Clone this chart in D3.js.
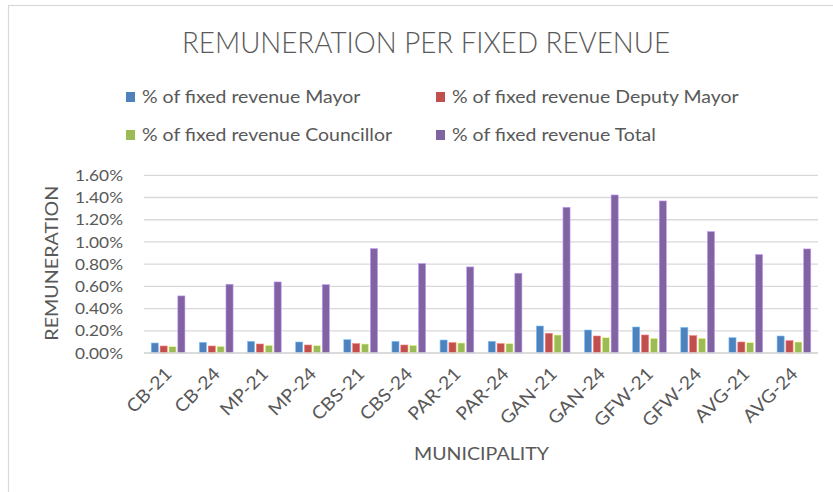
<!DOCTYPE html>
<html>
<head>
<meta charset="utf-8">
<script src="https://cdn.jsdelivr.net/npm/d3@7"></script>
<style>
  html, body { margin: 0; padding: 0; background: #fff; }
  svg { display: block; font-family: Lato, "Open Sans", sans-serif; }
</style>
</head>
<body>
<svg id="chart" width="833" height="492"></svg>
<script>
const categories = ["CB-21","CB-24","MP-21","MP-24","CBS-21","CBS-24","PAR-21","PAR-24","GAN-21","GAN-24","GFW-21","GFW-24","AVG-21","AVG-24"];
const seriesNames = ["% of fixed revenue Mayor","% of fixed revenue Deputy Mayor","% of fixed revenue Councillor","% of fixed revenue Total"];
const mayor      = [0.0009, 0.00096, 0.00105, 0.00099, 0.0012, 0.00105, 0.00117, 0.00105, 0.00243, 0.00207, 0.00234, 0.00231, 0.00138, 0.00153];
const deputy     = [0.00063, 0.00063, 0.00081, 0.00072, 0.00084, 0.00072, 0.00093, 0.00084, 0.00177, 0.00153, 0.00162, 0.00156, 0.00099, 0.00111];
const councillor = [0.00057, 0.0006, 0.00069, 0.00066, 0.00081, 0.00069, 0.0009, 0.00084, 0.00162, 0.00138, 0.00132, 0.00132, 0.00093, 0.00099];
const total      = [0.00514, 0.00619, 0.0064, 0.00615, 0.0094, 0.00805, 0.00775, 0.00718, 0.01312, 0.01423, 0.01369, 0.01093, 0.00886, 0.00937];
const yTicks = [0, 0.002, 0.004, 0.006, 0.008, 0.010, 0.012, 0.014, 0.016];
const colors = ["#4f81bd", "#c0504d", "#9bbb59", "#8064a2"];
const title = "REMUNERATION PER FIXED REVENUE";
const xTitle = "MUNICIPALITY";
const yTitle = "REMUNERATION";

const seriesValues = [mayor, deputy, councillor, total];
const svg = d3.select("#chart");
const textColor = "#595959";
const gridColor = "#d9d9d9";
const stretch = 1.18; // reference text is horizontally wide

function widen(sel, factor) {
  sel.each(function () {
    const w = this.getComputedTextLength();
    d3.select(this).attr("textLength", w * factor).attr("lengthAdjust", "spacingAndGlyphs");
  });
}

// chart border
svg.append("rect").attr("x", 8.5).attr("y", 5.5).attr("width", 840).attr("height", 500)
  .attr("fill", "none").attr("stroke", "#d9d9d9").attr("stroke-width", 1.2);

const plot = { left: 144, right: 818, top: 175.3, bottom: 353 };

const x0 = d3.scaleBand().domain(categories).range([plot.left, plot.right])
  .paddingInner(0.3).paddingOuter(0.15);
const x1 = d3.scaleBand().domain(d3.range(seriesNames.length)).range([0, x0.bandwidth()])
  .paddingInner(0.2);
const y = d3.scaleLinear().domain([0, 0.016]).range([plot.bottom, plot.top]);

// gridlines
svg.append("g").selectAll("line").data(yTicks).join("line")
  .attr("x1", plot.left).attr("x2", plot.right)
  .attr("y1", d => y(d)).attr("y2", d => y(d))
  .attr("stroke", gridColor).attr("stroke-width", 1.3);

// y axis labels
const yAxis = d3.axisLeft(y).tickValues(yTicks).tickFormat(d3.format(".2%")).tickSize(0).tickPadding(21);
const gy = svg.append("g").attr("transform", `translate(${plot.left},0)`).call(yAxis);
gy.select(".domain").remove();
gy.selectAll("text").attr("fill", textColor).style("font-size", "16px").style("font-family", "Lato, sans-serif");
widen(gy.selectAll("text"), 1.08);

// bars
const groups = svg.append("g").selectAll("g").data(categories).join("g")
  .attr("transform", d => `translate(${x0(d)},0)`);
groups.selectAll("rect").data((d, i) => seriesValues.map((s, k) => ({ k, v: s[i] }))).join("rect")
  .attr("x", d => x1(d.k)).attr("width", x1.bandwidth())
  .attr("y", d => y(d.v)).attr("height", d => y(0) - y(d.v))
  .attr("fill", d => colors[d.k])
  .attr("stroke", d => d3.color(colors[d.k]).brighter(1.2)).attr("stroke-width", 0.6);

// x axis line
svg.append("line").attr("x1", plot.left).attr("x2", plot.right)
  .attr("y1", plot.bottom).attr("y2", plot.bottom)
  .attr("stroke", gridColor).attr("stroke-width", 1.3);

// x axis labels
const xAxis = d3.axisBottom(x0).tickSize(0).tickPadding(0);
const gx = svg.append("g").attr("transform", `translate(0,${plot.bottom})`).call(xAxis);
gx.select(".domain").remove();
gx.selectAll("text")
  .attr("fill", textColor).style("font-size", "18px").style("font-family", "Lato, sans-serif")
  .attr("text-anchor", "end").attr("dy", null).attr("y", 0)
  .attr("transform", "translate(5,22) rotate(-45)");
widen(gx.selectAll("text"), 1.08);

// titles
svg.append("text").attr("x", 426).attr("y", 52.5).attr("text-anchor", "middle")
  .attr("fill", textColor).style("font-size", "29px").style("font-weight", 300)
  .attr("textLength", 488).attr("lengthAdjust", "spacingAndGlyphs")
  .text(title);

svg.append("text").attr("x", 481.5).attr("y", 460).attr("text-anchor", "middle")
  .attr("fill", textColor).style("font-size", "18px")
  .attr("textLength", 135).attr("lengthAdjust", "spacingAndGlyphs").text(xTitle);

svg.append("text").attr("transform", `translate(58,${(plot.top + plot.bottom) / 2 - 1}) rotate(-90)`)
  .attr("text-anchor", "middle").attr("fill", textColor).style("font-size", "18px")
  .attr("textLength", 155).attr("lengthAdjust", "spacingAndGlyphs").text(yTitle);

// legend
const legendPos = [[126, 97], [436, 97], [126, 135], [436, 135]];
const leg = svg.append("g").selectAll("g").data(seriesNames).join("g")
  .attr("transform", (d, i) => `translate(${legendPos[i][0]},${legendPos[i][1]})`);
leg.append("rect").attr("x", 0).attr("y", -5).attr("width", 9).attr("height", 10)
  .attr("fill", (d, i) => colors[i]);
const legText = leg.append("text").attr("x", 16).attr("y", 0).attr("dy", "0.35em")
  .attr("fill", textColor).style("font-size", "16.5px").text(d => d);
widen(legText, stretch);
</script>
</body>
</html>
